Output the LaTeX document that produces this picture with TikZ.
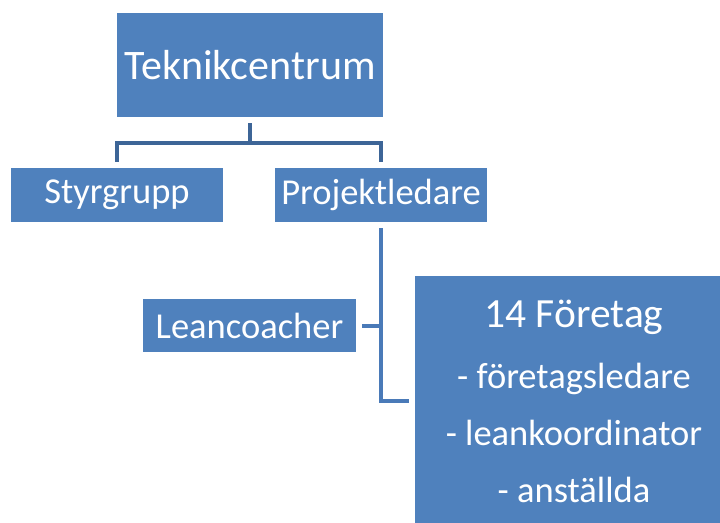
\documentclass[tikz,border=0pt]{standalone}
\usepackage{fontspec}
\setmainfont{Carlito}
\usetikzlibrary{positioning}

\definecolor{boxblue}{HTML}{4F81BD}
\definecolor{linktop}{HTML}{3D6597}
\definecolor{linklow}{HTML}{4A7AB8}

\begin{document}
\begin{tikzpicture}[x=1pt,y=-1pt]

\tikzstyle{orgbox} = [rectangle, fill=boxblue, text=white, text centered, inner sep=0pt]
\tikzstyle{unit} = [orgbox, minimum width=212pt, minimum height=54pt, font=\fontsize{36.5}{42}\selectfont]
\tikzstyle{link} = [line width=4pt, draw=linktop, shorten <=6pt, shorten >=6pt]
\tikzstyle{sublink} = [line width=4pt, draw=linklow, shorten <=6pt, shorten >=6pt]

\clip (0,0) rectangle (720,522);

\node (tc) [orgbox, minimum width=266pt, minimum height=104pt, font=\fontsize{42}{49}\selectfont] at (250,65) {Teknikcentrum};
\node (sg) [unit] at (117,195) {Styrgrupp};
\node (pl) [unit] at (381,195) {Projektledare};
\node (lc) [unit, minimum width=213pt, minimum height=53pt] at (249.5,325.5) {Leancoacher};
\node (ft) [orgbox, minimum width=318pt, minimum height=250pt, align=center, font=\fontsize{36.5}{57}\selectfont] at (574,401)
  {{\fontsize{41.5}{48}\selectfont 14 Företag}\\[4pt] - företagsledare\\ - leankoordinator\\ - anställda};

\draw [link] (tc.south) -- ++(0,26) -| (sg.north);
\draw [link] (tc.south) -- ++(0,26) -| (pl.north);
\draw [sublink] (pl.south) |- (ft.west);
\draw [sublink, shorten >=0pt] (lc.east) -- (lc.east -| pl.south);

\end{tikzpicture}
\end{document}
